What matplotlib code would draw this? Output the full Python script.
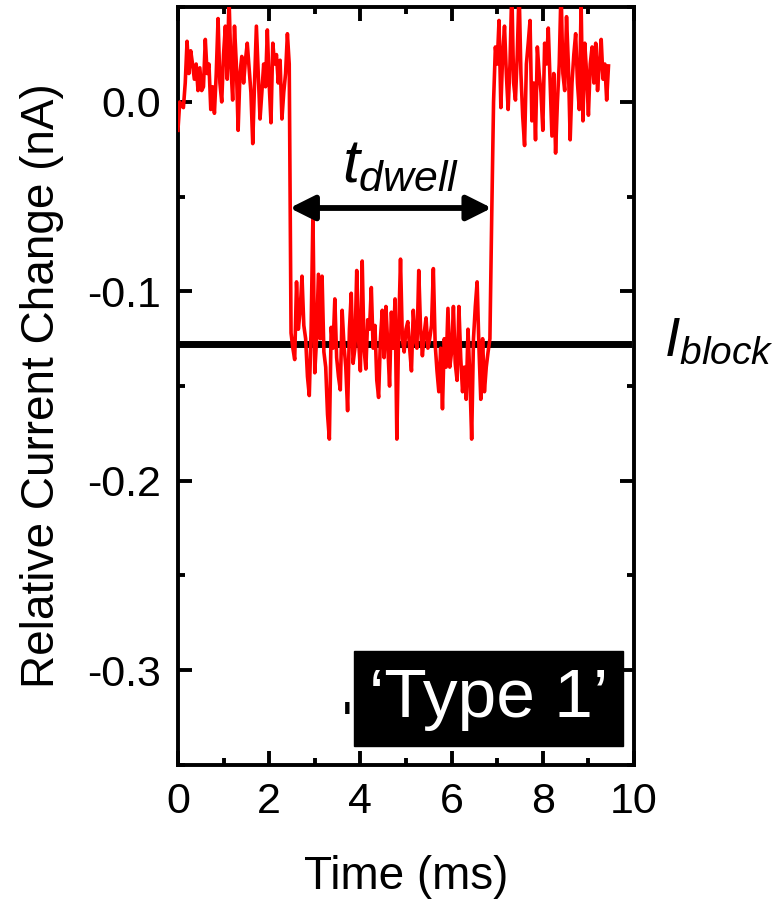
import numpy as np
import matplotlib
matplotlib.use("Agg")
import matplotlib.pyplot as plt
from matplotlib.ticker import MultipleLocator

plt.rcParams["font.family"] = ["Liberation Sans", "DejaVu Sans"]
plt.rcParams["mathtext.fontset"] = "custom"
plt.rcParams["mathtext.it"] = "Liberation Sans:italic"
plt.rcParams["mathtext.rm"] = "Liberation Sans"

# sampling step of the trace (ms)
dt = 0.04

# open pore, before the event (nA)
open_before = [
    -0.015, 0.000, -0.002, -0.003, 0.010, 0.032, 0.015, 0.027, 0.020, 0.012,
    0.020, 0.006, 0.018, 0.006, 0.008, 0.033, 0.015, 0.020, -0.004, 0.008,
    -0.006, 0.015, 0.044, 0.010, 0.000, 0.025, 0.040, 0.012, 0.055, 0.020,
    0.001, 0.040, 0.020, -0.015, 0.015, 0.024, 0.010, 0.022, 0.031, 0.018,
    0.005, -0.022, 0.010, 0.040, 0.015, -0.009, 0.005, 0.020, 0.008, 0.038,
    0.010, -0.011, 0.031, 0.020, 0.025, 0.010, 0.022, -0.009, 0.005, 0.015,
    0.036, 0.020,
]

# blocked state
blocked = [
    -0.122, -0.130, -0.136, -0.095, -0.120, -0.110, -0.092, -0.118, -0.125, -0.145,
    -0.155, -0.120, -0.059, -0.143, -0.125, -0.091, -0.125, -0.092, -0.132, -0.140,
    -0.165, -0.178, -0.119, -0.130, -0.104, -0.135, -0.145, -0.152, -0.110, -0.128,
    -0.140, -0.163, -0.120, -0.101, -0.138, -0.130, -0.089, -0.125, -0.142, -0.084,
    -0.130, -0.141, -0.115, -0.120, -0.098, -0.130, -0.118, -0.147, -0.156, -0.125,
    -0.110, -0.135, -0.108, -0.128, -0.150, -0.111, -0.130, -0.104, -0.178, -0.120,
    -0.083, -0.125, -0.132, -0.120, -0.116, -0.130, -0.142, -0.110, -0.125, -0.130,
    -0.089, -0.120, -0.134, -0.122, -0.114, -0.130, -0.125, -0.118, -0.088, -0.128,
    -0.142, -0.153, -0.130, -0.162, -0.125, -0.140, -0.109, -0.140, -0.132, -0.108,
    -0.138, -0.147, -0.108, -0.135, -0.153, -0.140, -0.157, -0.120, -0.145, -0.178,
    -0.125, -0.108, -0.095, -0.130, -0.157, -0.125, -0.153, -0.140, -0.132,
]

# open pore, after the event
open_after = [
    -0.125, -0.060, 0.000, 0.029, 0.020, 0.043, -0.003, 0.025, 0.040, 0.015,
    -0.004, 0.020, 0.060, 0.010, 0.001, 0.025, 0.060, 0.015, -0.008, -0.023,
    0.020, 0.031, 0.043, -0.010, 0.010, -0.020, 0.029, 0.015, 0.005, -0.015,
    0.031, 0.020, 0.039, 0.010, -0.018, 0.015, -0.027, 0.000, 0.020, 0.060,
    0.015, 0.006, 0.045, 0.020, -0.020, 0.010, 0.025, 0.036, 0.010, -0.004,
    0.052, -0.010, 0.031, 0.015, -0.007, 0.020, 0.029, 0.010, 0.031, 0.006,
    0.020, 0.033, 0.012, 0.020, 0.001, 0.019,
]

current = np.array(open_before + blocked + open_after)
time = np.arange(len(current)) * dt

i_block = -0.128          # mean blocked level
dwell_start, dwell_end = 2.45, 6.88
dwell_level = -0.056
block_line_end = 9.86

fig = plt.figure(figsize=(7.77, 9.02), dpi=100)
ax = fig.add_axes([0.229, 0.152, 0.587, 0.840])

ax.plot([0, block_line_end], [i_block, i_block], color="black", lw=5, zorder=2)
ax.plot(time, current, color="red", lw=2.6, zorder=3)

ax.annotate("", xy=(dwell_start, dwell_level), xytext=(dwell_end, dwell_level),
            arrowprops=dict(arrowstyle="<|-|>,head_length=1.5,head_width=0.75",
                            color="black", lw=4.2, shrinkA=0, shrinkB=0),
            zorder=4)
ax.text(3.6, -0.034, r"$t_{dwell}$", fontsize=44, ha="left", va="center")
ax.text(10.65, -0.127, r"$I_{block}$", fontsize=40, ha="left", va="center",
        clip_on=False)

ax.text(3.59, -0.337, "'", fontsize=40, color="black", ha="left", va="baseline")
ax.text(6.81, -0.315, "‘Type 1’", fontsize=50, color="white",
        ha="center", va="center",
        bbox=dict(boxstyle="square,pad=0.22", fc="black", ec="black"))

ax.set_xlim(0, 10)
ax.set_ylim(-0.35, 0.05)
ax.xaxis.set_major_locator(MultipleLocator(2))
ax.xaxis.set_minor_locator(MultipleLocator(1))
ax.yaxis.set_major_locator(MultipleLocator(0.1))
ax.yaxis.set_minor_locator(MultipleLocator(0.05))
ax.yaxis.set_major_formatter(plt.FuncFormatter(lambda v, p: f"{v:.1f}"))

ax.tick_params(which="both", direction="in", top=True, right=True, width=2.8,
               labelsize=31)
ax.tick_params(which="major", length=10, pad=12)
ax.tick_params(which="minor", length=5)
for s in ax.spines.values():
    s.set_linewidth(2.8)

ax.set_xlabel("Time (ms)", fontsize=33, labelpad=24)
ax.set_ylabel("Relative Current Change (nA)", fontsize=33, labelpad=17)

fig.savefig("out.png", dpi=100)
